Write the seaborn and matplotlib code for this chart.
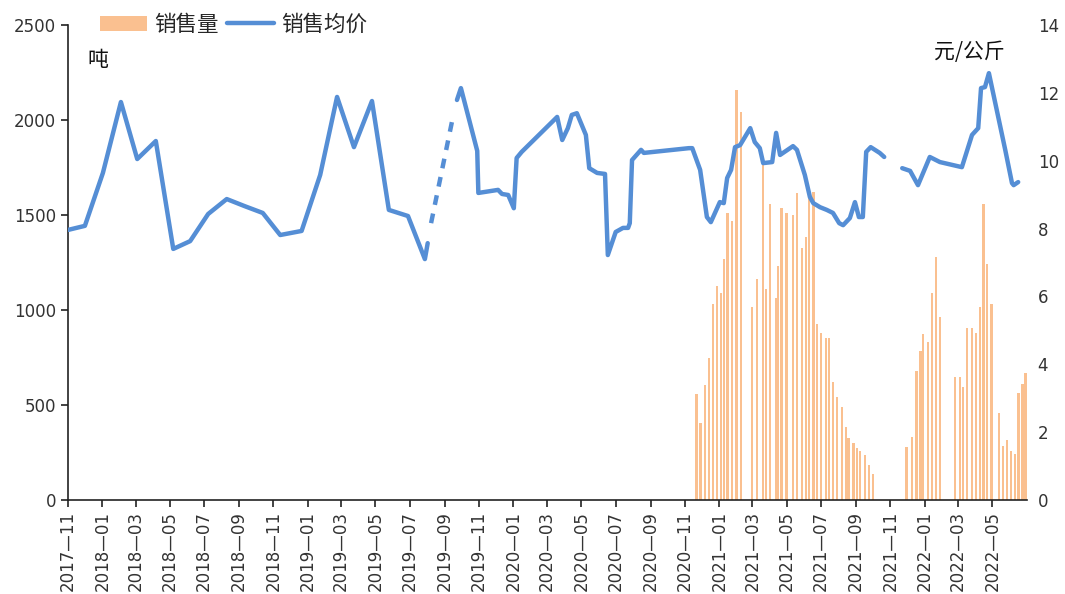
import numpy as np
import pandas as pd
import seaborn as sns
import matplotlib.pyplot as plt
import matplotlib.dates as mdates
from matplotlib.patches import Patch
from matplotlib.lines import Line2D

# 销售量 (吨), weekly
vol_dates = [
    "2020-11-22", "2020-11-29", "2020-12-07", "2020-12-14", "2020-12-21", "2020-12-28",
    "2021-01-04", "2021-01-09", "2021-01-16", "2021-01-24", "2021-02-01", "2021-02-09",
    "2021-02-28", "2021-03-09", "2021-03-20", "2021-03-25", "2021-04-01", "2021-04-12",
    "2021-04-15", "2021-04-22", "2021-04-30", "2021-05-12", "2021-05-19", "2021-05-28",
    "2021-06-04", "2021-06-09", "2021-06-17", "2021-06-24", "2021-07-01", "2021-07-10",
    "2021-07-15", "2021-07-22", "2021-07-29", "2021-08-07", "2021-08-14", "2021-08-19",
    "2021-08-27", "2021-09-03", "2021-09-08", "2021-09-17", "2021-09-24", "2021-10-01",
    "2021-11-30", "2021-12-09", "2021-12-17", "2021-12-24", "2021-12-29", "2022-01-07",
    "2022-01-14", "2022-01-21", "2022-01-28",
    "2022-02-24", "2022-03-05", "2022-03-10", "2022-03-17", "2022-03-26", "2022-04-02",
    "2022-04-09", "2022-04-15", "2022-04-22", "2022-04-30",
    "2022-05-13", "2022-05-20", "2022-05-27", "2022-06-03", "2022-06-10", "2022-06-17",
    "2022-06-24", "2022-06-29",
]
vol_values = [
    558, 405, 605, 747, 1032, 1126, 1089, 1268, 1509, 1468, 2158, 2042,
    1016, 1163, 1765, 1111, 1558, 1063, 1232, 1537, 1509, 1500, 1614, 1326,
    1386, 1640, 1623, 925, 880, 851, 851, 623, 544, 490, 386, 328,
    298, 272, 258, 235, 184, 137,
    279, 332, 679, 784, 874, 832, 1089, 1279, 963,
    647, 647, 595, 905, 905, 879, 1016, 1558, 1242, 1032,
    458, 284, 316, 258, 242, 563, 611, 668,
]

# 销售均价 (元/公斤), None = no data
price_dates = [
    "2017-11-01", "2017-12-01", "2018-01-02", "2018-02-03", "2018-03-04", "2018-04-06",
    "2018-05-07", "2018-06-06", "2018-07-08", "2018-08-10", "2018-09-11", "2018-10-13",
    "2018-11-13", "2018-12-21", "2019-01-23", "2019-02-22", "2019-03-24", "2019-04-25",
    "2019-05-25", "2019-06-28", "2019-07-28", "2019-08-02", "2019-08-20",
    "2019-09-23", "2019-09-30", "2019-10-29", "2019-10-31", "2019-12-05", "2019-12-12",
    "2019-12-23", "2020-01-02", "2020-01-07", "2020-01-16", "2020-03-19", "2020-03-28",
    "2020-04-07", "2020-04-14", "2020-04-23", "2020-05-09", "2020-05-15", "2020-05-29",
    "2020-06-12", "2020-06-17", "2020-07-01", "2020-07-14", "2020-07-23", "2020-07-26",
    "2020-07-30", "2020-08-15", "2020-08-20", "2020-11-08", "2020-11-14", "2020-11-28",
    "2020-12-10", "2020-12-17", "2021-01-02", "2021-01-09", "2021-01-15", "2021-01-22",
    "2021-01-29", "2021-02-07", "2021-02-25", "2021-03-05", "2021-03-14", "2021-03-20",
    "2021-04-05", "2021-04-12", "2021-04-19", "2021-05-12", "2021-05-19", "2021-06-02",
    "2021-06-11", "2021-06-17", "2021-06-29", "2021-07-11", "2021-07-22", "2021-08-02",
    "2021-08-09", "2021-08-21", "2021-08-30", "2021-09-06", "2021-09-13", "2021-09-19",
    "2021-09-27", "2021-10-13", "2021-10-21", "2021-11-05",
    "2021-11-22", "2021-12-06", "2021-12-20", "2022-01-10", "2022-01-28", "2022-03-08",
    "2022-03-26", "2022-04-06", "2022-04-11", "2022-04-18", "2022-04-25", "2022-05-24",
    "2022-06-05", "2022-06-08", "2022-06-16",
]
price_values = [
    7.96, 8.08, 9.64, 11.73, 10.05, 10.58,
    7.40, 7.63, 8.43, 8.87, 8.66, 8.46,
    7.81, 7.93, 9.58, 11.88, 10.40, 11.76,
    8.55, 8.37, 7.10, 7.57, None,
    11.79, 12.14, 10.29, 9.05, 9.14, 9.02,
    8.99, 8.60, 10.08, 10.26, 11.29, 10.61,
    10.96, 11.35, 11.40, 10.76, 9.78, 9.64,
    9.61, 7.22, 7.90, 8.02, 8.02, 8.16,
    10.02, 10.32, 10.23, 10.37, 10.37, 9.73,
    8.34, 8.19, 8.78, 8.75, 9.49, 9.73,
    10.40, 10.46, 10.96, 10.55, 10.37, 9.93,
    9.96, 10.82, 10.17, 10.43, 10.32, 9.58,
    8.93, 8.75, 8.63, 8.55, 8.46, 8.16,
    8.10, 8.31, 8.78, 8.34, 8.34, 10.26,
    10.40, 10.23, 10.11, None,
    9.78, 9.70, 9.28, 10.11, 9.96, 9.81,
    10.76, 10.96, 12.14, 12.17, 12.58, 10.32,
    9.34, 9.28, 9.37,
]

# sparse stretch shown dashed
gap_dates = ["2019-08-08", "2019-09-14"]
gap_values = [8.16, 11.14]

bar_color = "#FAC090"
line_color = "#558ED5"
cjk = ["Noto Sans CJK SC", "DejaVu Sans"]

sns.set_style("ticks")
plt.rcParams["font.family"] = ["DejaVu Sans", "Noto Sans CJK SC"]

vol = pd.DataFrame({"date": pd.to_datetime(vol_dates), "vol": vol_values})
price = pd.DataFrame({"date": pd.to_datetime(price_dates),
                      "price": pd.to_numeric(pd.Series(price_values), errors="coerce")})
price["seg"] = price["price"].isna().cumsum()
price = price.dropna()
gap = pd.DataFrame({"date": pd.to_datetime(gap_dates), "price": gap_values})

fig = plt.figure(figsize=(10.65, 5.94), dpi=100)
ax = fig.add_axes([68 / 1065, 94 / 594, 958.6 / 1065, 475 / 594])
ax.bar(vol["date"], vol["vol"], width=4.5, color=bar_color, linewidth=0)

ax2 = ax.twinx()
sns.lineplot(data=price, x="date", y="price", units="seg", estimator=None,
             color=line_color, linewidth=3.2, ax=ax2, legend=False)
sns.lineplot(data=gap, x="date", y="price", color=line_color, linewidth=3.2,
             ax=ax2, legend=False)
ax2.lines[-1].set_dashes((2.2, 2.0))

ax.set_xlim(pd.Timestamp("2017-11-01"), pd.Timestamp("2022-06-30 23:00"))
ax.set_ylim(0, 2500)
ax.set_yticks(range(0, 2501, 500))
ax2.set_ylim(0, 14)
ax2.set_yticks(range(0, 15, 2))

ax.xaxis.set_major_locator(mdates.MonthLocator(bymonth=[1, 3, 5, 7, 9, 11]))
ax.xaxis.set_major_formatter(mdates.DateFormatter("%Y—%m"))
ax.tick_params(axis="x", rotation=90, labelsize=12, length=5, width=1.2, colors="#222222", pad=3)
ax.tick_params(axis="y", labelsize=12, length=5, width=1.2, colors="#222222")
ax2.tick_params(axis="y", labelsize=12, length=0, pad=8, colors="#222222")
for lab in ax.get_xticklabels() + ax.get_yticklabels() + ax2.get_yticklabels():
    lab.set_color("#333333")

for s in ["top", "right"]:
    ax.spines[s].set_visible(False)
for s in ax2.spines.values():
    s.set_visible(False)
for s in ["left", "bottom"]:
    ax.spines[s].set_linewidth(1.2)
    ax.spines[s].set_color("#222222")
ax.set_xlabel("")
ax.set_ylabel("")
ax2.set_xlabel("")
ax2.set_ylabel("")

fig.text(87 / 1065, 1 - 60 / 594, "吨", fontsize=15, va="center", ha="left",
         color="#111111", family=cjk)
fig.text(934 / 1065, 1 - 52 / 594, "元/公斤", fontsize=15, va="center", ha="left",
         color="#111111", family=cjk)

handles = [Patch(facecolor=bar_color, edgecolor="none"),
           Line2D([0], [0], color=line_color, linewidth=3.2)]
fig.legend(handles, ["销售量", "销售均价"], loc="center left",
           bbox_to_anchor=(85 / 1065, 1 - 25 / 594), ncol=2, frameon=False,
           prop={"family": cjk, "size": 15.5}, handlelength=2.2, handletextpad=0.33,
           columnspacing=0.37, borderpad=0.2)

fig.savefig("out.png", dpi=100)
